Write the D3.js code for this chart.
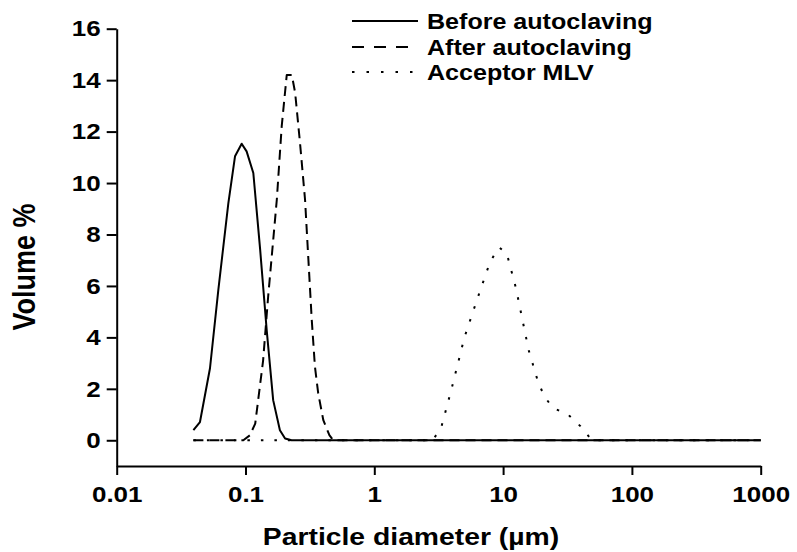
<!DOCTYPE html>
<html>
<head>
<meta charset="utf-8">
<script src="https://cdn.jsdelivr.net/npm/d3@7"></script>
<style>
  html, body { margin: 0; padding: 0; background: #fff; }
  svg { display: block; }
  text { font-family: "Liberation Sans", Arial, sans-serif; font-weight: bold; fill: #000; }
</style>
</head>
<body>
<script>
// ---- Data ----
const seriesNames = ["Before autoclaving", "After autoclaving", "Acceptor MLV"];

// Before autoclaving (solid)
const beforeDiameter = [0.0394, 0.0443, 0.053, 0.0615, 0.0736, 0.0829, 0.0934, 0.102, 0.115, 0.130, 0.146, 0.164, 0.185, 0.203, 0.228, 1000];
const beforeVolume   = [0.39,   0.71,   2.8,   5.84,   9.22,   11.04,  11.53,  11.23, 10.39, 7.4,   4.29,  1.56,  0.39,  0.07,  0,     0];

// After autoclaving (dashed)
const afterDiameter = [0.0394, 0.0962, 0.108, 0.119, 0.137, 0.150, 0.175, 0.191, 0.209, 0.229, 0.243, 0.265, 0.290, 0.308, 0.327, 0.346, 0.367, 0.402, 0.448, 0.479, 1000];
const afterVolume   = [0,      0,      0.19,  0.65,  3.1,   5.6,   9.35,  12.2,  14.2,  14.2,  13.5,  11.56, 9.35,  7.0,   4.67,  2.86,  1.82,  0.78,  0.2,   0,     0];

// Acceptor MLV (dotted)
const mlvDiameter = [0.0394, 2.84, 3.31, 3.98, 5.01, 6.31, 7.94, 9.33, 10.7, 12.6, 15.8, 18.6, 20.9, 24.5, 31.6, 39.8, 49.0, 1000];
const mlvVolume   = [0,      0,    0.5,  2.0,  4.0,  5.5,  6.95, 7.5,  7.25, 5.9,  3.5,  2.3,  1.7,  1.25, 1.02, 0.55, 0,    0];

// Axes
const xTickValues = [0.01, 0.1, 1, 10, 100, 1000];
const xTickLabels = ["0.01", "0.1", "1", "10", "100", "1000"];
const yTickValues = [0, 2, 4, 6, 8, 10, 12, 14, 16];
const yMinorTickValues = [-1, 1, 3, 5, 7, 9, 11, 13, 15];
const xTitle = "Particle diameter (\u00B5m)";
const yTitle = "Volume %";

// ---- Layout ----
const W = 797, H = 552;
const plot = { left: 116.7, right: 760.7, top: 28.7, bottom: 466 };
const stretch = 1.18;

const svg = d3.select("body").append("svg").attr("width", W).attr("height", H);

const x = d3.scaleLog().domain([0.01, 1000]).range([plot.left, plot.right]);
const y = d3.scaleLinear().domain([-1, 16]).range([plot.bottom, plot.top]);

// minor x ticks
const xMinor = [];
for (let e = -2; e < 3; e++) for (let m = 2; m <= 9; m++) xMinor.push(m * Math.pow(10, e));

// ---- Axes ----
const gx = svg.append("g").attr("transform", `translate(0,${plot.bottom})`);
gx.call(d3.axisBottom(x).tickValues(xMinor).tickSize(5).tickSizeOuter(0).tickFormat(""));
gx.call(d3.axisBottom(x).tickValues(xTickValues).tickSize(9).tickSizeOuter(0)
  .tickFormat((d, i) => xTickLabels[i]));

const gy = svg.append("g").attr("transform", `translate(${plot.left},0)`);
gy.call(d3.axisLeft(y).tickValues(yMinorTickValues).tickSize(6).tickSizeOuter(0).tickFormat(""));
gy.call(d3.axisLeft(y).tickValues(yTickValues).tickSize(10).tickSizeOuter(0));

svg.selectAll(".domain").attr("stroke", "#000").attr("stroke-width", 2);
svg.selectAll(".tick line").attr("stroke", "#000").attr("stroke-width", 2);

gx.selectAll(".tick text")
  .attr("x", 0).attr("y", 0).attr("dy", null)
  .attr("font-size", 22)
  .attr("text-anchor", "middle")
  .attr("transform", `translate(0,36) scale(${stretch},1)`);

gy.selectAll(".tick text")
  .attr("x", 0).attr("dy", "0.33em")
  .attr("font-size", 22)
  .attr("text-anchor", "end")
  .attr("transform", `translate(-16,0) scale(${stretch},1)`);

svg.selectAll(".tick text").style("font-family", '"Liberation Sans", Arial, sans-serif').style("font-weight", "bold").attr("fill", "#000");

// ---- Titles ----
svg.append("text")
  .attr("text-anchor", "middle")
  .attr("font-size", 24)
  .attr("transform", `translate(411,545) scale(${stretch},1)`)
  .text(xTitle);

svg.append("text")
  .attr("text-anchor", "middle")
  .attr("font-size", 27)
  .attr("transform", `translate(35,267) rotate(-90) scale(1,${stretch})`)
  .text(yTitle);

// ---- Lines ----
const line = d3.line().x(d => x(d[0])).y(d => y(d[1]));
const styles = [
  { dash: null },
  { dash: "10,6" },
  { dash: "2.5,11" }
];
const series = [
  d3.zip(beforeDiameter, beforeVolume),
  d3.zip(afterDiameter, afterVolume),
  d3.zip(mlvDiameter, mlvVolume)
];
// draw dotted, dashed, then solid on top
[2, 1, 0].forEach(i => {
  svg.append("path")
    .datum(series[i])
    .attr("fill", "none")
    .attr("stroke", "#000")
    .attr("stroke-width", 2)
    .attr("stroke-linejoin", "round")
    .attr("stroke-dasharray", styles[i].dash)
    .attr("d", line);
});

// ---- Legend ----
const legendY = [21, 47, 72];
seriesNames.forEach((name, i) => {
  svg.append("line")
    .attr("x1", 352).attr("x2", 418)
    .attr("y1", legendY[i]).attr("y2", legendY[i])
    .attr("stroke", "#000").attr("stroke-width", 2)
    .attr("stroke-dasharray", i === 1 ? "12,10" : (i === 2 ? "2.5,12" : null));
  svg.append("text")
    .attr("font-size", 22)
    .attr("transform", `translate(427,${legendY[i] + 8}) scale(1.14,1)`)
    .text(name);
});
</script>
</body>
</html>
